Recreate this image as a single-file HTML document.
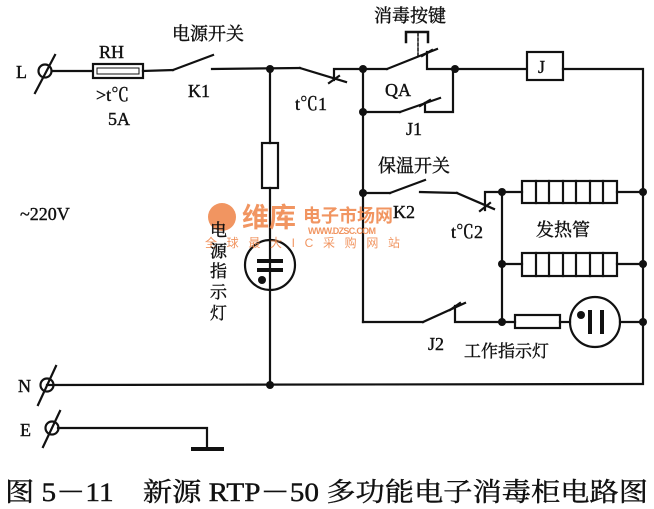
<!DOCTYPE html>
<html><head><meta charset="utf-8"><style>
html,body{margin:0;padding:0;background:#fff;}
svg{display:block;}
text{font-family:"Liberation Serif","Noto Serif CJK SC","Noto Sans CJK SC",serif;fill:#111;stroke:#111;stroke-width:0.4;}
.c{font-family:"Liberation Sans","Noto Sans CJK SC",sans-serif;stroke:none;}
</style></head><body>
<svg width="654" height="509" viewBox="0 0 654 509" xmlns="http://www.w3.org/2000/svg">
<g stroke="#111" stroke-width="2.2" fill="none" stroke-linecap="square">
<!-- L terminal -->
<circle cx="45" cy="71" r="6.5"/><line x1="35" y1="93" x2="55" y2="55"/>
<line x1="52" y1="71" x2="92" y2="71"/>
<rect x="93" y="64" width="50" height="14"/>
<rect x="97" y="68" width="42" height="6" stroke-width="1"/>
<line x1="143" y1="71" x2="173" y2="70"/>
<line x1="173" y1="70" x2="213" y2="55"/>
<line x1="212" y1="69" x2="300" y2="68"/>
<!-- tC1 -->
<line x1="300" y1="68" x2="346" y2="82"/>
<polyline points="363,69 334,69 334,80"/>
<line x1="329" y1="83" x2="339" y2="76"/>
<!-- QA -->
<line x1="363" y1="69" x2="387" y2="69"/>
<line x1="387" y1="69" x2="437" y2="49"/>
<polyline points="455,69 427,69 427,52"/>
<line x1="422" y1="56" x2="432" y2="50"/>
<polyline points="406,42 406,32 428,32 428,42" stroke-width="2.5"/>
<line x1="418" y1="33" x2="418" y2="56" stroke-dasharray="3,2" stroke-width="1.5"/>
<line x1="455" y1="69" x2="526" y2="69"/>
<rect x="527" y="52" width="36" height="28"/>
<polyline points="563,69 643,69 643,384 47,385"/>
<!-- J1 -->
<line x1="363" y1="69" x2="363" y2="322"/>
<line x1="363" y1="112" x2="400" y2="112"/>
<line x1="400" y1="112" x2="440" y2="98"/>
<polyline points="425,103 425,112 453,112 453,69"/>
<line x1="420" y1="106" x2="430" y2="100"/>
<!-- K2 -->
<line x1="363" y1="193" x2="390" y2="193"/>
<line x1="390" y1="193" x2="425" y2="180"/>
<line x1="420" y1="192" x2="457" y2="193"/>
<line x1="457" y1="193" x2="494" y2="209"/>
<polyline points="502,192 485,192 485,210"/>
<line x1="480" y1="211" x2="490" y2="203"/>
<!-- heater area -->
<line x1="502" y1="192" x2="502" y2="322"/>
<line x1="502" y1="192" x2="522" y2="192"/>
<rect x="522" y="181" width="95" height="22"/>
<path d="M536 181V203M549 181V203M563 181V203M576 181V203M590 181V203M603 181V203"/>
<line x1="617" y1="192" x2="643" y2="192"/>
<line x1="502" y1="264" x2="522" y2="264"/>
<rect x="522" y="253" width="95" height="23"/>
<path d="M536 253V276M549 253V276M563 253V276M576 253V276M590 253V276M603 253V276"/>
<line x1="617" y1="264" x2="643" y2="264"/>
<!-- J2 -->
<line x1="363" y1="322" x2="423" y2="322"/>
<line x1="423" y1="322" x2="465" y2="303"/>
<polyline points="455,306 455,322 515,322"/>
<line x1="450" y1="310" x2="460" y2="303"/>
<rect x="515" y="315" width="45" height="13"/>
<line x1="560" y1="322" x2="570" y2="322"/>
<circle cx="595" cy="322" r="25"/>
<line x1="620" y1="322" x2="643" y2="322"/>
<!-- power lamp branch -->
<line x1="270" y1="69" x2="270" y2="143"/>
<rect x="262" y="143" width="16" height="45"/>
<line x1="270" y1="188" x2="270" y2="385"/>
<circle cx="270" cy="265" r="25"/>
<!-- N, E -->
<circle cx="47" cy="385" r="6.5"/><line x1="38" y1="405" x2="56" y2="366"/>
<circle cx="52" cy="428" r="6.5"/><line x1="43" y1="447" x2="60" y2="411"/>
<polyline points="58,428 207,428 207,448"/>
<line x1="193" y1="449" x2="222" y2="449" stroke-width="4"/>
</g>
<g fill="#111" stroke="none">
<rect x="600" y="310" width="4" height="24"/><rect x="588" y="310" width="4" height="24"/>
<circle cx="581" cy="315" r="4"/>
<rect x="257" y="259" width="26" height="4"/><rect x="257" y="268" width="26" height="4"/>
<circle cx="262" cy="280" r="4"/>
<circle cx="270" cy="69" r="4"/><circle cx="363" cy="69" r="4"/><circle cx="455" cy="69" r="4"/>
<circle cx="363" cy="112" r="4"/><circle cx="363" cy="193" r="4"/>
<circle cx="502" cy="192" r="4"/><circle cx="643" cy="192" r="4"/>
<circle cx="502" cy="264" r="4"/><circle cx="643" cy="264" r="4"/>
<circle cx="502" cy="322" r="4"/><circle cx="643" cy="322" r="4"/>
<circle cx="270" cy="385" r="4"/>
</g>
<!-- watermark -->
<g fill="#f08a50" opacity="0.9">
<circle cx="222" cy="217" r="14"/>
<text x="242" y="227" font-size="27" font-weight="bold" class="c" style="fill:#f08a50">维库</text>
<text x="303" y="222" font-size="18" font-weight="bold" class="c" style="fill:#f08a50">电子市场网</text>
<text x="308" y="234" font-size="9" font-weight="bold" class="c" style="fill:#f08a50" textLength="68">WWW.DZSC.COM</text>
<text x="205" y="247" font-size="12" class="c" style="fill:#f08a50" textLength="195">全 球 最 大 I C 采 购 网 站</text>
</g>
<g font-size="18">
<text x="16" y="78">L</text>
<text x="99" y="58">RH</text>
<text x="96" y="101">&gt;t℃</text>
<text x="108" y="125">5A</text>
<text x="172" y="40">电源开关</text>
<text x="188" y="97">K1</text>
<text x="295" y="110">t℃1</text>
<text x="374" y="22">消毒按键</text>
<text x="385" y="96">QA</text>
<text x="406" y="135">J1</text>
<text x="538" y="73">J</text>
<text x="378" y="172">保温开关</text>
<text x="393" y="218">K2</text>
<text x="451" y="238">t℃2</text>
<text x="536" y="236">发热管</text>
<text x="20" y="220">~220V</text>
<text x="428" y="350">J2</text>
<text x="464" y="357" font-size="17">工作指示灯</text>
<text x="18" y="392">N</text>
<text x="20" y="436">E</text>
<text x="210" y="236" font-size="17">电</text>
<text x="210" y="257" font-size="17">源</text>
<text x="210" y="277" font-size="17">指</text>
<text x="210" y="298" font-size="17">示</text>
<text x="210" y="319" font-size="17">灯</text>
<text x="5" y="501" font-size="26" textLength="643" lengthAdjust="spacingAndGlyphs">图 5－11　新源 RTP－50 多功能电子消毒柜电路图</text>
</g>
</svg>
</body></html>
